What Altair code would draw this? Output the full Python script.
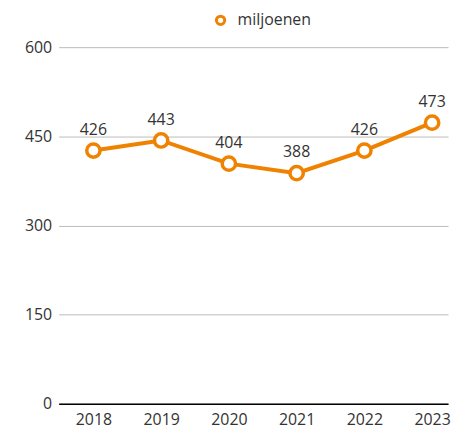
import altair as alt
import pandas as pd

years = [2018, 2019, 2020, 2021, 2022, 2023]
values = [426, 443, 404, 388, 426, 473]
series = ["miljoenen"] * 6
y_ticks = [0, 150, 300, 450, 600]

df = pd.DataFrame({"jaar": years, "waarde": values, "reeks": series})

ORANGE = "#EF8200"
FONT = "Open Sans"

x = alt.X("jaar:Q", scale=alt.Scale(domain=[2017.487, 2023.235], nice=False, zero=False),
          axis=alt.Axis(values=years, format="d", title=None, ticks=False, grid=False,
                        domainColor="#000000", domainWidth=1.5, labelPadding=8,
                        labelFontSize=16, labelColor="#333333", labelFont=FONT))
y = alt.Y("waarde:Q", scale=alt.Scale(domain=[0, 600], nice=False),
          axis=alt.Axis(values=y_ticks, title=None, ticks=False, domain=False,
                        gridColor="#BBBBBB", gridWidth=1, labelPadding=7,
                        labelFontSize=16, labelColor="#333333", labelFont=FONT))

color = alt.Color("reeks:N", scale=alt.Scale(range=[ORANGE]),
                  legend=alt.Legend(title=None, orient="none", legendX=155, legendY=-35,
                                    symbolType="circle", symbolFillColor="white",
                                    symbolStrokeColor=ORANGE, symbolStrokeWidth=3,
                                    symbolSize=70, labelFontSize=16, labelColor="#333333",
                                    labelFont=FONT, labelOffset=9))

base = alt.Chart(df)
line = base.mark_line(strokeWidth=4).encode(x=x, y=y, color=color)
pts = base.mark_point(filled=True, fill="white", strokeWidth=3.5, size=180, opacity=1).encode(
    x=x, y=y, stroke=alt.Stroke("reeks:N", scale=alt.Scale(range=[ORANGE]), legend=None))
labels = base.mark_text(dy=-21, fontSize=16, color="#333333", font=FONT).encode(
    x=x, y=y, text="waarde:Q")

chart = (line + pts + labels).properties(
    width=392, height=359,
    autosize=alt.AutoSizeParams(type="none"),
    padding={"left": 51, "top": 38, "right": 3, "bottom": 26},
).configure_view(stroke=None)

chart.save("out.html", embed_options={"renderer": "svg", "actions": False})
